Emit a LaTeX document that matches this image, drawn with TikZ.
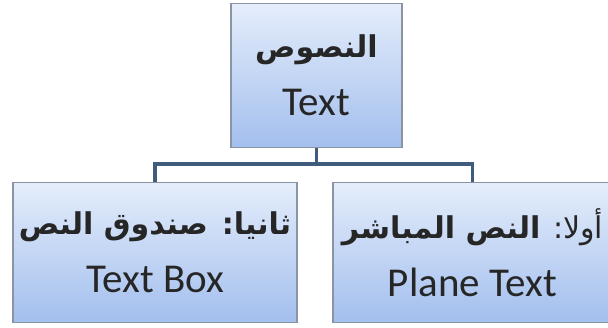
\documentclass[tikz,border=0pt]{standalone}
\usepackage{fontspec}
\setmainfont{Carlito}
\newfontfamily\arabicfont[Script=Arabic]{DejaVu Sans}
\TeXXeTstate=1
\definecolor{boxtop}{HTML}{E4EDFB}
\definecolor{boxbottom}{HTML}{A3BFEE}
\definecolor{boxline}{HTML}{8A94A2}
\definecolor{linkblue}{HTML}{3F5C7C}
\tikzset{
  topic/.style={draw=boxline, line width=1.2pt, top color=boxtop, bottom color=boxbottom,
    anchor=north, align=center, inner sep=0pt, text=black!85,
    font=\fontsize{41}{58}\selectfont},
  link/.style={draw=linkblue, line width=3.5pt}
}
\newcommand{\ar}[1]{{\arabicfont\fontsize{30}{58}\selectfont\beginR #1\endR}}

\begin{document}
\begin{tikzpicture}[x=1pt, y=-1pt]
    \useasboundingbox (0,0) rectangle (608,327);
    \node[topic, minimum width=171, minimum height=144] (text) at (316.5,3)
      {\ar{\textbf{النصوص}}\\Text};
    \node[topic, minimum width=284, minimum height=140] (textbox) at (155,182)
      {\ar{\textbf{ثانيا: صندوق النص}}\\Text Box};
    \node[topic, minimum width=279, minimum height=140] (plane) at (472.5,182)
      {\ar{أولا: \textbf{النص المباشر}}\\Plane Text};
    % connectors
    \draw[link] (text.south) -- ++(0,16) coordinate (bus);
    \draw[link] (textbox.north) |- (bus) -| (plane.north);
  \end{tikzpicture}
\end{document}
